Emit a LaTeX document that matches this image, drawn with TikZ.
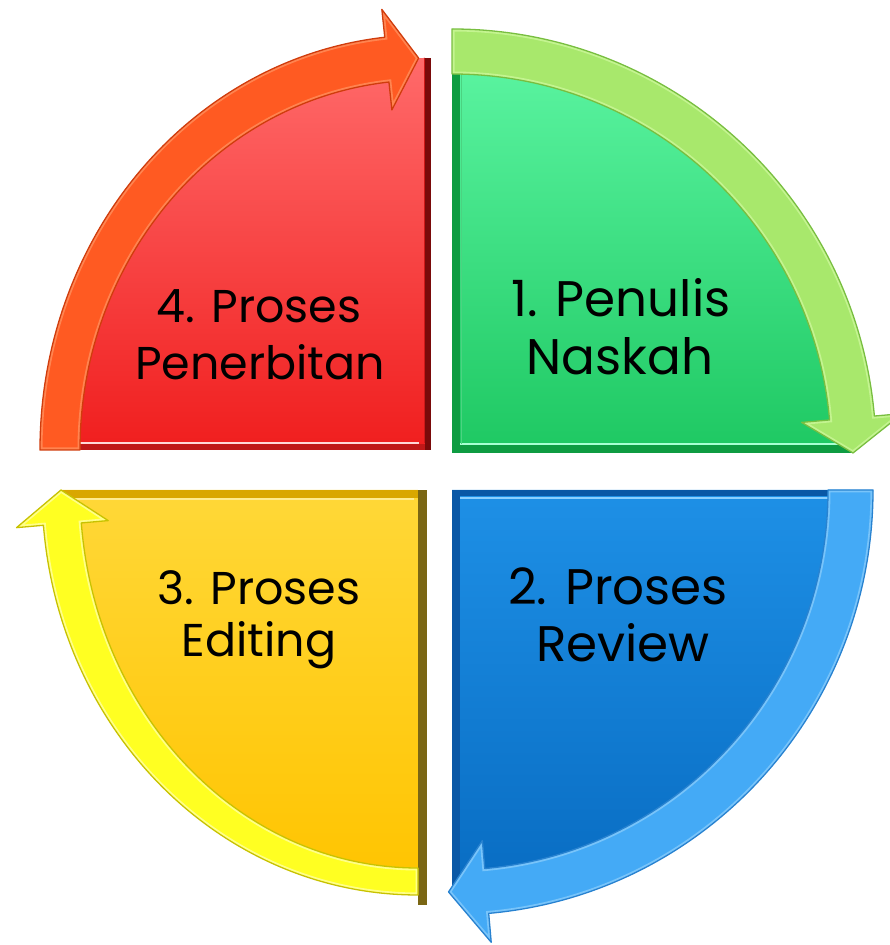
\documentclass[tikz,border=0pt]{standalone}
\usepackage{fontspec}
\setmainfont{Poppins}
\definecolor{gT}{HTML}{5CF5A2}
\definecolor{gB}{HTML}{1EC862}
\definecolor{gD}{HTML}{0E9C42}
\definecolor{gH}{HTML}{A8FFD2}
\definecolor{gA}{HTML}{A8E86C}
\definecolor{gAL}{HTML}{C4F490}
\definecolor{gAD}{HTML}{78BE40}
\definecolor{rT}{HTML}{FF6A6A}
\definecolor{rB}{HTML}{F01E1E}
\definecolor{rD}{HTML}{7A0A0A}
\definecolor{rH}{HTML}{FFD8D8}
\definecolor{rA}{HTML}{FF5A22}
\definecolor{rAL}{HTML}{FF8450}
\definecolor{rAD}{HTML}{D03C0C}
\definecolor{yT}{HTML}{FFD838}
\definecolor{yB}{HTML}{FFC400}
\definecolor{yD}{HTML}{7A6614}
\definecolor{yH}{HTML}{FFEC90}
\definecolor{yA}{HTML}{FFFF22}
\definecolor{yAL}{HTML}{FFFF88}
\definecolor{yAD}{HTML}{C8C200}
\definecolor{bT}{HTML}{1E90E6}
\definecolor{bB}{HTML}{086CC2}
\definecolor{bD}{HTML}{0A58A6}
\definecolor{bH}{HTML}{8CD0FF}
\definecolor{bA}{HTML}{44AAF6}
\definecolor{bAL}{HTML}{78C4FA}
\definecolor{bAD}{HTML}{2882D0}
\tikzset{
  lblR/.style={anchor=base, inner sep=0pt, font=\fontsize{50}{60}\selectfont},
  lblL/.style={anchor=base, inner sep=0pt, font=\fontsize{46}{56}\selectfont},
  arrowedge/.style={line width=1.3pt, line join=round},
}
% arrow outlines (relative to each quadrant's corner)
\def\garrow{(90:424) arc[start angle=90,end angle=5,radius=424]
     -- (5:452) -- (0:401) -- (5:351) -- (5:379) arc[start angle=5,end angle=90,radius=379] -- cycle}
\def\rarrow{(180:385 and 415) arc[start angle=180,end angle=96,x radius=385,y radius=415]
     -- (96:413 and 443) -- (91:365 and 392) -- (96:317 and 342) -- (96:345 and 370)
     arc[start angle=96,end angle=180,x radius=345,y radius=370] -- cycle}
\def\yarrow{(-90:376 and 405) arc[start angle=-90,end angle=-175,x radius=376,y radius=405]
     -- (-175:403 and 432) -- (-180:357 and 391) -- (-175:311 and 351) -- (-175:338 and 378)
     arc[start angle=-175,end angle=-90,x radius=338,y radius=378] -- cycle}
\def\barrow{(0:421 and 425) arc[start angle=0,end angle=-85,x radius=421,y radius=425]
     -- (-85:450 and 454) -- (-90.5:398 and 402) -- (-85:348 and 352) -- (-85:376 and 380)
     arc[start angle=-85,end angle=0,x radius=376,y radius=380] -- cycle}
\begin{document}
\begin{tikzpicture}[x=1pt,y=1pt]
\useasboundingbox (0,0) rectangle (890,945);
\clip (0,0) rectangle (890,945);

% ---------- 1. green (top right)
\begin{scope}[shift={(452,492)}]
  \path[top color=gT, bottom color=gB] (0,0) -- (90:401) arc[start angle=90,end angle=0,radius=401] -- cycle;
  \begin{scope}
    \clip (0,0) -- (90:401) arc[start angle=90,end angle=0,radius=401] -- cycle;
    \fill[gD] (0,0) rectangle (8,401);
    \fill[gD] (0,0) rectangle (401,8);
    \draw[gH, line width=1.5] (8,9) -- (401,9);
    \draw[gB!80!white, line width=1] (9,9) -- (9,401);
  \end{scope}
  \fill[gA] \garrow;
  \begin{scope}\clip \garrow; \draw[gAL, line width=5] \garrow; \end{scope}
  \draw[gAD, arrowedge] \garrow;
\end{scope}

% ---------- 4. red (top left)
\begin{scope}[shift={(425,495)}]
  \path[top color=rT, bottom color=rB] (0,0) -- (180:365 and 392) arc[start angle=180,end angle=90,x radius=365,y radius=392] -- cycle;
  \fill[rD] (0,0) rectangle (6,392);
  \begin{scope}
    \clip (0,0) -- (180:365 and 392) arc[start angle=180,end angle=90,x radius=365,y radius=392] -- cycle;
    \fill[rB!80!black] (-400,0) rectangle (0,6);
    \draw[rH, line width=1.8] (-400,7) -- (-6,7);
    \draw[rB!85!black, line width=1] (-1,7) -- (-1,400);
  \end{scope}
  \fill[rA] \rarrow;
  \begin{scope}\clip \rarrow; \draw[rAL, line width=5] \rarrow; \end{scope}
  \draw[rAD, arrowedge] \rarrow;
\end{scope}

% ---------- 3. yellow (bottom left)
\begin{scope}[shift={(418,455)}]
  \path[top color=yT, bottom color=yB] (0,0) -- (-90:357 and 391) arc[start angle=-90,end angle=-180,x radius=357,y radius=391] -- cycle;
  \fill[yD] (0,-415) rectangle (9,0);
  \begin{scope}
    \clip (0,0) -- (-90:357 and 391) arc[start angle=-90,end angle=-180,x radius=357,y radius=391] -- cycle;
    \fill[yB!85!black] (-400,-8) rectangle (0,0);
    \draw[yH, line width=1.5] (-400,-9) -- (-4,-9);
  \end{scope}
  \fill[yA] \yarrow;
  \begin{scope}\clip \yarrow; \draw[yAL, line width=5] \yarrow; \end{scope}
  \draw[yAD, arrowedge] \yarrow;
\end{scope}

% ---------- 2. blue (bottom right)
\begin{scope}[shift={(452,455)}]
  \path[top color=bT, bottom color=bB] (0,0) -- (0:398 and 402) arc[start angle=0,end angle=-90,x radius=398,y radius=402] -- cycle;
  \begin{scope}
    \clip (0,0) -- (0:398 and 402) arc[start angle=0,end angle=-90,x radius=398,y radius=402] -- cycle;
    \fill[bD] (0,-402) rectangle (8,0);
    \fill[bD] (0,-6) rectangle (400,0);
    \draw[bH, line width=1.5] (8,-8) -- (400,-8);
  \end{scope}
  \fill[bA] \barrow;
  \begin{scope}\clip \barrow; \draw[bAL, line width=5] \barrow; \end{scope}
  \draw[bAD, arrowedge] \barrow;
\end{scope}

% ---------- labels
\node[lblR] (g1) at (621,628) {1. Penulis};
\node[lblR] (g2) at (620,570) {Naskah};
\node[lblL] (r1) at (259,622) {4. Proses};
\node[lblL] (r2) at (260,565) {Penerbitan};
\node[lblL] (y1) at (259,340) {3. Proses};
\node[lblL] (y2) at (259,288) {Editing};
\node[lblR] (b1) at (618,340) {2. Proses};
\node[lblR] (b2) at (623,283) {Review};
\end{tikzpicture}
\end{document}
